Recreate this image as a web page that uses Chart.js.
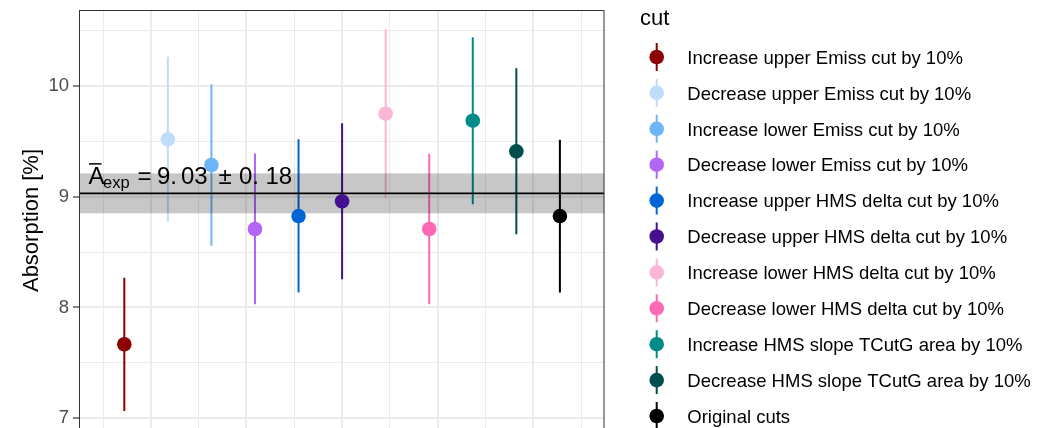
<!DOCTYPE html>
<html><head><meta charset="utf-8">
<script src="https://cdn.jsdelivr.net/npm/chart.js@4.4.1/dist/chart.umd.min.js"></script>
<style>
html,body{margin:0;padding:0;background:#fff;overflow:hidden;width:1048px;height:428px}
#wrap{position:relative;width:1048px;height:440px}
</style></head>
<body><div id="wrap"><canvas id="c"></canvas></div>
<script>
const categories = [
  "Increase upper Emiss cut by 10%",
  "Decrease upper Emiss cut by 10%",
  "Increase lower Emiss cut by 10%",
  "Decrease lower Emiss cut by 10%",
  "Increase upper HMS delta cut by 10%",
  "Decrease upper HMS delta cut by 10%",
  "Increase lower HMS delta cut by 10%",
  "Decrease lower HMS delta cut by 10%",
  "Increase HMS slope TCutG area by 10%",
  "Decrease HMS slope TCutG area by 10%",
  "Original cuts"
];
const xPos   = [1, 2, 3, 4, 5, 6, 7, 8, 9, 10, 11];
const values = [7.668, 9.518, 9.286, 8.708, 8.825, 8.958, 9.749, 8.708, 9.686, 9.409, 8.825];
const lower  = [7.066, 8.774, 8.558, 8.029, 8.134, 8.254, 8.986, 8.029, 8.931, 8.661, 8.134];
const upper  = [8.269, 10.264, 10.014, 9.390, 9.518, 9.662, 10.511, 9.388, 10.439, 10.159, 9.514];
const colors = ["#8B0000", "#BFDCFB", "#6BB5F8", "#B266F5", "#0066D6", "#44108F",
                "#F9B6D6", "#FF69B4", "#008B8B", "#004D4D", "#000000"];
const meanValue = 9.03;
const meanError = 0.18;
const yTickValues = [7, 7.5, 8, 8.5, 9, 9.5, 10, 10.5];
const xGridValues = [0.5115, 1.609, 2.707, 3.805, 4.902, 6, 7.098, 8.195, 9.293, 10.391, 11.489];
const yTitle = "Absorption [%]";
const legendTitle = "cut";

const FONT = "'Liberation Sans', Arial, Helvetica, sans-serif";

const overlayPlugin = {
  id: 'overlay',
  beforeDatasetsDraw(chart) {
    const {ctx, chartArea: a, scales: {x, y}} = chart;
    ctx.save();
    ctx.beginPath(); ctx.rect(a.left, a.top, a.right - a.left, a.bottom - a.top); ctx.clip();
    ctx.lineWidth = 2;
    xPos.forEach((xv, i) => {
      const px = x.getPixelForValue(xv);
      ctx.strokeStyle = colors[i];
      ctx.beginPath();
      ctx.moveTo(px, y.getPixelForValue(lower[i]));
      ctx.lineTo(px, y.getPixelForValue(upper[i]));
      ctx.stroke();
    });
    const yTop = y.getPixelForValue(meanValue + meanError);
    const yBot = y.getPixelForValue(meanValue - meanError);
    ctx.fillStyle = 'rgba(0,0,0,0.22)';
    ctx.fillRect(a.left, yTop, a.right - a.left, yBot - yTop);
    const ym = y.getPixelForValue(meanValue);
    ctx.strokeStyle = '#000'; ctx.lineWidth = 1.6;
    ctx.beginPath(); ctx.moveTo(a.left, ym); ctx.lineTo(a.right, ym); ctx.stroke();
    ctx.restore();
  },
  afterDatasetsDraw(chart) {
    const {ctx, chartArea: a, scales: {y}} = chart;
    ctx.save();
    const base = y.getPixelForValue(meanValue) - 9;
    ctx.fillStyle = '#000';
    ctx.textBaseline = 'alphabetic';
    ctx.textAlign = 'left';
    ctx.font = `24px ${FONT}`;
    ctx.fillText('A', 88.5, base);
    ctx.strokeStyle = '#000'; ctx.lineWidth = 1.5;
    ctx.beginPath(); ctx.moveTo(89, base - 20.5); ctx.lineTo(101.5, base - 20.5); ctx.stroke();
    ctx.font = `16.5px ${FONT}`;
    ctx.fillText('exp', 103, base + 4);
    ctx.font = `24px ${FONT}`;
    const toks = [['=', 137.5], ['9.', 157], ['03', 181], ['\u00B1', 218.5], ['0.', 239], ['18', 265.5]];
    toks.forEach(([t, tx]) => ctx.fillText(t, tx, base));
    ctx.strokeStyle = '#333333'; ctx.lineWidth = 1;
    ctx.strokeRect(a.left + 0.5, a.top + 0.5, a.right - a.left - 1, a.bottom - a.top - 1);
    ctx.restore();
  },
  afterDraw(chart) {
    const {ctx} = chart;
    ctx.save();
    ctx.fillStyle = '#000';
    ctx.textAlign = 'left';
    ctx.textBaseline = 'alphabetic';
    ctx.font = `22px ${FONT}`;
    ctx.fillText(legendTitle, 640, 25);
    ctx.font = `18.5px ${FONT}`;
    categories.forEach((c, i) => {
      const ry = 57 + i * 35.9;
      const kx = 656.7;
      ctx.strokeStyle = colors[i]; ctx.lineWidth = 2;
      ctx.beginPath(); ctx.moveTo(kx, ry - 14); ctx.lineTo(kx, ry + 14); ctx.stroke();
      ctx.fillStyle = colors[i];
      ctx.beginPath(); ctx.arc(kx, ry, 7.3, 0, Math.PI * 2); ctx.fill();
      ctx.fillStyle = '#000';
      ctx.fillText(c, 687.3, ry + 6.7);
    });
    ctx.restore();
  }
};

new Chart(document.getElementById('c'), {
  type: 'scatter',
  data: {
    datasets: [{
      label: 'cut',
      data: xPos.map((xv, i) => ({x: xv, y: values[i]})),
      backgroundColor: colors,
      borderColor: colors,
      borderWidth: 0,
      pointRadius: 7.3,
      pointHoverRadius: 7.3
    }]
  },
  options: {
    responsive: true,
    maintainAspectRatio: false,
    animation: false,
    events: [],
    layout: {padding: {left: 0, top: 10, right: 1048 - 604.5, bottom: 9}},
    plugins: {legend: {display: false}, tooltip: {enabled: false}},
    scales: {
      x: {
        type: 'linear', min: -0.04, max: 12.024,
        afterBuildTicks: s => { s.ticks = xGridValues.map(v => ({value: v})); },
        ticks: {display: false},
        grid: {color: '#ebebeb', lineWidth: c => (c.index % 2 === 1 ? 2 : 1), drawTicks: false},
        border: {display: false},
        afterFit: s => { s.height = 0; s.paddingLeft = 0; s.paddingRight = 0; }
      },
      y: {
        type: 'linear', min: 6.885, max: 10.685,
        afterBuildTicks: s => { s.ticks = yTickValues.map(v => ({value: v})); },
        ticks: {
          autoSkip: false,
          callback: v => (Number.isInteger(v) ? String(v) : ''),
          color: '#4d4d4d',
          font: {family: FONT, size: 18.5},
          padding: 4
        },
        grid: {
          color: '#ebebeb',
          lineWidth: c => (c.tick && Number.isInteger(c.tick.value) ? 2 : 1),
          tickLength: 6,
          tickWidth: 1.2,
          tickColor: c => (c.tick && Number.isInteger(c.tick.value) ? '#333333' : 'rgba(0,0,0,0)')
        },
        border: {display: false},
        title: {display: true, text: yTitle, color: '#000', font: {family: FONT, size: 22}, padding: {top: 19, bottom: 0}},
        afterFit: s => { s.width = 79; s.paddingTop = 0; s.paddingBottom = 0; }
      }
    }
  },
  plugins: [overlayPlugin]
});
</script>
</body></html>
